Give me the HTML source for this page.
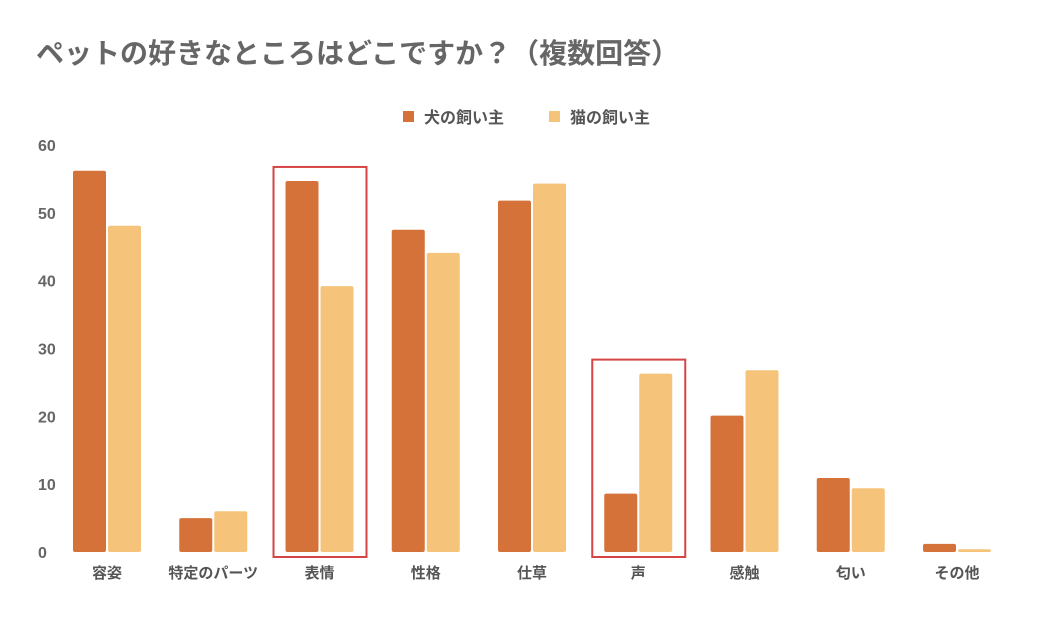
<!DOCTYPE html>
<html><head><meta charset="utf-8">
<style>
body{margin:0;background:#fff;width:1037px;height:622px;overflow:hidden;font-family:"Liberation Sans","Noto Sans CJK JP",sans-serif;}
</style></head>
<body>
<svg id="chart" width="1037" height="622" xmlns="http://www.w3.org/2000/svg" font-family="Liberation Sans, Noto Sans CJK JP, sans-serif">
<text x="36" y="63" font-size="28" font-weight="bold" fill="#666">ペットの好きなところはどこですか？（複数回答）</text>
<g>
<rect x="403" y="111" width="11" height="11" fill="#D47239"/>
<text x="424" y="123" font-size="16" font-weight="bold" fill="#555">犬の飼い主</text>
<rect x="549" y="111" width="11" height="11" fill="#F5C47A"/>
<text x="570" y="123" font-size="16" font-weight="bold" fill="#555">猫の飼い主</text>
</g>
<g id="plot"></g>
</svg>
<script>
const categories=["容姿","特定のパーツ","表情","性格","仕草","声","感触","匂い","その他"];
const dogValues=[56.2,5.0,54.7,47.5,51.8,8.6,20.1,10.9,1.2];
const catValues=[48.1,6.0,39.2,44.1,54.3,26.3,26.8,9.4,0.4];
const yTicks=[0,10,20,30,40,50,60];
const highlighted=["表情","声"];
const NS="http://www.w3.org/2000/svg";
const g=document.getElementById('plot');
const y=v=>552-v*(407/60);
const xc=i=>107+i*106.25;
function mk(t,a){const e=document.createElementNS(NS,t);for(const k in a)e.setAttribute(k,a[k]);g.appendChild(e);return e;}
yTicks.forEach(t=>{
 const e=mk('text',{x:38,y:y(t)+6,'font-size':16,'font-weight':'bold',fill:'#666'});
 
 
 e.textContent=t;
});
categories.forEach((c,i)=>{
 const d=mk('rect',{x:xc(i)-34,y:y(dogValues[i]),width:33,height:552-y(dogValues[i]),fill:'#D47239',rx:2});
 
 
 const k=mk('rect',{x:xc(i)+1,y:y(catValues[i]),width:33,height:552-y(catValues[i]),fill:'#F5C47A',rx:2});
 
 
 const l=mk('text',{x:xc(i),y:578,'font-size':15,'font-weight':'bold',fill:'#555','text-anchor':'middle'});
 
 
 l.textContent=c;
 if(highlighted.includes(c)){
  const top=y(Math.max(dogValues[i],catValues[i]))-14;
  const b=mk('rect',{x:xc(i)-46,y:top,width:93,height:557-top,fill:'none',stroke:'#D64545','stroke-width':2});
  
  
 }
});
</script>
</body></html>
